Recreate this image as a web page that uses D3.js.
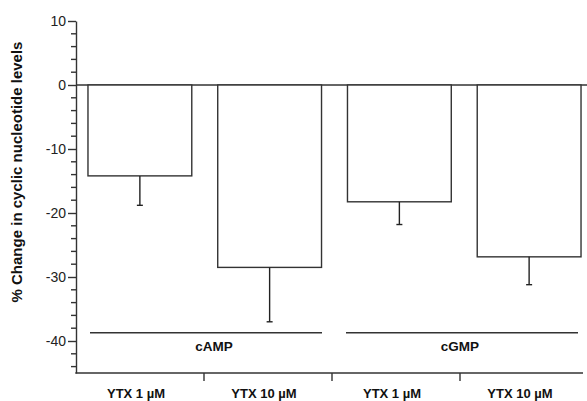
<!DOCTYPE html>
<html>
<head>
<meta charset="utf-8">
<script src="https://cdnjs.cloudflare.com/ajax/libs/d3/7.8.5/d3.min.js"></script>
<style>
  html, body { margin: 0; padding: 0; background: #fff; }
  svg { display: block; }
  text { font-family: "Liberation Sans", Arial, Helvetica, sans-serif; }
</style>
</head>
<body>
<svg id="chart" width="587" height="401"></svg>
<script>
// ---- data ----
const categories = ["cAMP|YTX 1", "cAMP|YTX 10", "cGMP|YTX 1", "cGMP|YTX 10"];
const categoryLabels = ["YTX 1 µM", "YTX 10 µM", "YTX 1 µM", "YTX 10 µM"];
const means = [-14.2, -28.5, -18.25, -26.85];
const errors = [4.6, 8.5, 3.55, 4.35];
const groups = ["cAMP", "cGMP"];
const groupMembers = [[0, 1], [2, 3]];
const groupLineValue = -38.7;
const yMajorTicks = [-40, -30, -20, -10, 0, 10];
const yMinorTicks = d3.range(-44, 11, 2);
const yTitle = "% Change in cyclic nucleotide levels";

// ---- drawing ----
const svg = d3.select("#chart");
const stroke = "#333";

const y = d3.scaleLinear().domain([-45, 10]).range([373, 21]);
const xAxisScale = d3.scaleBand().domain(categories).range([76, 588]);
const xBar = d3.scaleBand().domain(categories).range([75, 594])
  .paddingInner(0.2).paddingOuter(0.1);

// zero line
svg.append("line")
  .attr("x1", 76).attr("x2", 587)
  .attr("y1", y(0)).attr("y2", y(0))
  .attr("stroke", stroke).attr("stroke-width", 1.4);

// bars
svg.selectAll("rect.bar").data(categories).join("rect")
  .attr("class", "bar")
  .attr("x", d => xBar(d))
  .attr("width", xBar.bandwidth())
  .attr("y", (d, i) => y(Math.max(0, means[i])))
  .attr("height", (d, i) => Math.abs(y(means[i]) - y(0)))
  .attr("fill", "#fff")
  .attr("stroke", stroke).attr("stroke-width", 1.4);

// error bars
const eb = svg.selectAll("g.err").data(categories).join("g").attr("class", "err");
eb.append("line")
  .attr("x1", d => xBar(d) + xBar.bandwidth() / 2)
  .attr("x2", d => xBar(d) + xBar.bandwidth() / 2)
  .attr("y1", (d, i) => y(means[i]))
  .attr("y2", (d, i) => y(means[i] - errors[i]))
  .attr("stroke", "#222").attr("stroke-width", 1.4);
eb.append("line")
  .attr("x1", d => xBar(d) + xBar.bandwidth() / 2 - 3)
  .attr("x2", d => xBar(d) + xBar.bandwidth() / 2 + 3)
  .attr("y1", (d, i) => y(means[i] - errors[i]))
  .attr("y2", (d, i) => y(means[i] - errors[i]))
  .attr("stroke", "#222").attr("stroke-width", 1.4);

// y axis
const yAxis = d3.axisLeft(y).tickValues(yMajorTicks).tickSize(8).tickSizeOuter(0)
  .tickFormat(d => String(d));
const gy = svg.append("g").attr("transform", "translate(76,0)").call(yAxis);
gy.select(".domain").attr("stroke", stroke).attr("stroke-width", 1.4);
gy.selectAll(".tick line").attr("stroke", stroke).attr("stroke-width", 1.4);
gy.selectAll(".tick text").attr("font-size", 14).attr("fill", "#222")
  .attr("font-family", "Liberation Sans, Arial, sans-serif").attr("x", -10);
svg.append("g").selectAll("line").data(yMinorTicks.filter(v => v % 10 !== 0)).join("line")
  .attr("x1", 71).attr("x2", 76)
  .attr("y1", d => y(d)).attr("y2", d => y(d))
  .attr("stroke", stroke).attr("stroke-width", 1.4);

// x axis
const xBase = y(-45);
svg.append("line").attr("x1", 75.3).attr("x2", 583).attr("y1", xBase).attr("y2", xBase)
  .attr("stroke", stroke).attr("stroke-width", 1.4);
svg.append("g").selectAll("line").data(categories.slice(1)).join("line")
  .attr("x1", d => xAxisScale(d)).attr("x2", d => xAxisScale(d))
  .attr("y1", xBase).attr("y2", xBase + 8)
  .attr("stroke", stroke).attr("stroke-width", 1.4);
svg.append("g").selectAll("text").data(categories).join("text")
  .attr("x", d => xAxisScale(d) + xAxisScale.bandwidth() / 2 - 4)
  .attr("y", 398)
  .attr("text-anchor", "middle")
  .attr("font-size", 13).attr("font-weight", "bold").attr("fill", "#111")
  .text((d, i) => categoryLabels[i]);

// group lines + labels
groups.forEach((g, gi) => {
  const mem = groupMembers[gi];
  const x0 = xAxisScale(categories[mem[0]]);
  const x1 = xAxisScale(categories[mem[mem.length - 1]]) + xAxisScale.bandwidth();
  svg.append("line")
    .attr("x1", x0 + 14).attr("x2", x1 - 10)
    .attr("y1", y(groupLineValue)).attr("y2", y(groupLineValue))
    .attr("stroke", stroke).attr("stroke-width", 1.4);
  svg.append("text")
    .attr("x", (x0 + x1) / 2 + (gi === 0 ? 10 : 0))
    .attr("y", y(groupLineValue) + 18)
    .attr("text-anchor", "middle")
    .attr("font-size", 13.5).attr("font-weight", "bold").attr("fill", "#111")
    .text(g);
});

// y title
svg.append("text")
  .attr("transform", "translate(22,172) rotate(-90)")
  .attr("text-anchor", "middle")
  .attr("font-size", 15).attr("font-weight", "bold").attr("fill", "#111")
  .text(yTitle);
</script>
</body>
</html>
